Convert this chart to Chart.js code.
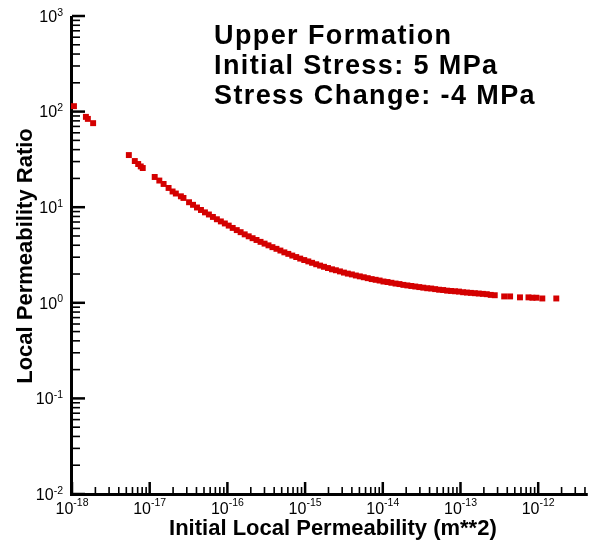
<!DOCTYPE html>
<html>
<head>
<meta charset="utf-8">
<title>Local Permeability Ratio</title>
<script src="https://cdn.jsdelivr.net/npm/chart.js@4/dist/chart.umd.min.js"></script>
<style>
  html, body { margin: 0; padding: 0; background: #fff; }
  canvas { display: block; }
</style>
</head>
<body>
<canvas id="permchart" width="592" height="544"></canvas>
<script>
// initial permeability (m**2) and the resulting permeability ratio
const permeability = [
  1.06e-18, 1.51e-18, 1.60e-18, 1.87e-18,
  5.39e-18, 6.43e-18, 7.11e-18, 7.67e-18, 8.14e-18,
  1.16e-17, 1.33e-17, 1.51e-17, 1.75e-17, 1.97e-17, 2.17e-17, 2.52e-17, 2.72e-17,
  3.21e-17, 3.61e-17, 4.06e-17, 4.57e-17, 5.14e-17, 5.78e-17, 6.51e-17, 7.32e-17,
  8.24e-17, 9.27e-17, 1.04e-16, 1.17e-16, 1.32e-16, 1.48e-16, 1.67e-16, 1.88e-16,
  2.11e-16, 2.37e-16, 2.67e-16, 3.01e-16, 3.38e-16, 3.80e-16, 4.28e-16, 4.81e-16,
  5.41e-16, 6.08e-16, 6.84e-16, 7.69e-16, 8.65e-16, 9.75e-16, 1.10e-15, 1.23e-15,
  1.39e-15, 1.56e-15, 1.75e-15, 1.97e-15, 2.22e-15, 2.49e-15, 2.81e-15, 3.16e-15,
  3.55e-15, 4.00e-15, 4.50e-15, 5.06e-15, 5.69e-15, 6.40e-15, 7.19e-15, 8.09e-15,
  9.10e-15, 1.02e-14, 1.15e-14, 1.29e-14, 1.46e-14, 1.64e-14, 1.84e-14, 2.07e-14,
  2.33e-14, 2.62e-14, 2.95e-14, 3.32e-14, 3.73e-14, 4.20e-14, 4.72e-14, 5.31e-14,
  5.98e-14, 6.73e-14, 7.57e-14, 8.51e-14, 9.57e-14, 1.08e-13, 1.21e-13, 1.36e-13,
  1.53e-13, 1.72e-13, 1.94e-13, 2.18e-13, 2.45e-13, 2.76e-13,
  3.65e-13, 4.35e-13, 5.83e-13, 7.50e-13, 8.43e-13, 9.48e-13, 1.13e-12, 1.71e-12
];
const ratio = [
  114, 88.1, 83.9, 75.7,
  35.1, 30.4, 28.3, 26.7, 25.7,
  20.7, 19.0, 17.5, 15.9, 14.6, 13.9, 13.0, 12.5,
  11.27, 10.59, 9.93, 9.35, 8.83, 8.39, 7.91, 7.48,
  7.10, 6.76, 6.42, 6.07, 5.76, 5.48, 5.20, 4.96,
  4.74, 4.54, 4.34, 4.16, 3.99, 3.82, 3.67, 3.52,
  3.37, 3.25, 3.12, 3.01, 2.90, 2.80, 2.71, 2.62,
  2.53, 2.45, 2.38, 2.31, 2.24, 2.19, 2.13, 2.07,
  2.02, 1.98, 1.93, 1.89, 1.85, 1.81, 1.77, 1.74,
  1.71, 1.67, 1.65, 1.62, 1.59, 1.57, 1.54, 1.52,
  1.50, 1.48, 1.46, 1.44, 1.42, 1.41, 1.39, 1.37,
  1.36, 1.34, 1.33, 1.32, 1.31, 1.29, 1.28, 1.27,
  1.26, 1.25, 1.24, 1.23, 1.21, 1.20,
  1.166, 1.166, 1.14, 1.14, 1.13, 1.13, 1.11, 1.11
];

// decade exponents used for tick labels
const xDecades = [-18, -17, -16, -15, -14, -13, -12];
const yDecades = [-2, -1, 0, 1, 2, 3];

const xTitle = 'Initial Local Permeability (m**2)';
const yTitle = 'Local Permeability Ratio';
const noteLines = ['Upper Formation', 'Initial Stress: 5 MPa', 'Stress Change: -4 MPa'];

const FONT = '"Liberation Sans", Arial, Helvetica, sans-serif';

// all decades touched by a scale, plus the 2..9 minor values inside it
function logTicks(scale, decades) {
  const list = [];
  const lo = Math.floor(Math.log10(scale.min));
  const hi = Math.ceil(Math.log10(scale.max));
  for (let d = lo; d <= hi; d++) {
    for (let m = 1; m <= 9; m++) {
      const v = m * Math.pow(10, d);
      if (v < scale.min * 0.999 || v > scale.max * 1.001) continue;
      list.push({ v: v, major: m === 1 && decades.includes(d) });
    }
  }
  return list;
}

function expLabel(ctx, exp, x, baseY, expY, align) {
  ctx.font = '16px ' + FONT;
  const wBase = ctx.measureText('10').width;
  ctx.font = '10.5px ' + FONT;
  const wExp = ctx.measureText(String(exp)).width;
  const w = wBase + wExp;
  const left = align === 'center' ? x - w / 2 : x - w;
  ctx.textAlign = 'left';
  ctx.textBaseline = 'alphabetic';
  ctx.font = '16px ' + FONT;
  ctx.fillText('10', left, baseY);
  ctx.font = '10.5px ' + FONT;
  ctx.fillText(String(exp), left + wBase, expY);
}

// plot-style frame: axis lines with inward major/minor ticks
const framePlugin = {
  id: 'frame',
  beforeDatasetsDraw(chart) {
    const { ctx, chartArea: a, scales: { x, y } } = chart;
    ctx.save();
    ctx.strokeStyle = '#000';
    ctx.lineCap = 'butt';

    logTicks(x, xDecades).forEach(t => {
      const px = x.getPixelForValue(t.v);
      ctx.lineWidth = t.major ? 2.5 : 1.6;
      ctx.beginPath();
      ctx.moveTo(px, a.bottom);
      ctx.lineTo(px, a.bottom - (t.major ? 12 : 7));
      ctx.stroke();
    });
    logTicks(y, yDecades).forEach(t => {
      const py = y.getPixelForValue(t.v);
      ctx.lineWidth = t.major ? 2.5 : 1.6;
      ctx.beginPath();
      ctx.moveTo(a.left, py);
      ctx.lineTo(a.left + (t.major ? 13 : 8), py);
      ctx.stroke();
    });

    ctx.lineWidth = 3;
    ctx.beginPath();
    ctx.moveTo(a.left - 0.5, a.top);
    ctx.lineTo(a.left - 0.5, a.bottom + 2);
    ctx.moveTo(a.left - 2, a.bottom + 0.5);
    ctx.lineTo(a.right, a.bottom + 0.5);
    ctx.stroke();
    ctx.restore();
  },
  afterDraw(chart) {
    const { ctx, chartArea: a, scales: { x, y } } = chart;
    ctx.save();
    ctx.fillStyle = '#000';

    xDecades.forEach(d => {
      const px = x.getPixelForValue(Math.pow(10, d));
      expLabel(ctx, d, px, a.bottom + 20, a.bottom + 11.5, 'center');
    });
    yDecades.forEach(d => {
      const py = y.getPixelForValue(Math.pow(10, d));
      expLabel(ctx, d, a.left - 9, py + 5.8, py - 0.4, 'right');
    });

    ctx.font = 'bold 22px ' + FONT;
    ctx.textAlign = 'center';
    ctx.textBaseline = 'alphabetic';
    ctx.fillText(xTitle, (a.left + a.right) / 2 + 3, 535);

    ctx.save();
    ctx.translate(31.5, (a.top + a.bottom) / 2 + 1);
    ctx.rotate(-Math.PI / 2);
    ctx.fillText(yTitle, 0, 0);
    ctx.restore();

    ctx.font = 'bold 27px ' + FONT;
    ctx.textAlign = 'left';
    if ('letterSpacing' in ctx) ctx.letterSpacing = '1.4px';
    noteLines.forEach((line, i) => ctx.fillText(line, 214, 44 + i * 30));
    ctx.restore();
  }
};

new Chart(document.getElementById('permchart'), {
  type: 'scatter',
  data: {
    datasets: [{
      label: yTitle,
      data: permeability.map((k, i) => ({ x: k, y: ratio[i] })),
      pointStyle: 'rect',
      pointRadius: 4.2,
      pointBorderWidth: 0,
      pointBackgroundColor: '#d40000',
      clip: false
    }]
  },
  options: {
    responsive: false,
    animation: false,
    devicePixelRatio: 1,
    layout: { padding: { left: 72, top: 16, right: 0, bottom: 50 } },
    scales: {
      x: { type: 'logarithmic', display: false, min: 1e-18, max: 4.35e-12 },
      y: { type: 'logarithmic', display: false, min: 0.01, max: 1000 }
    },
    plugins: {
      legend: { display: false },
      tooltip: { enabled: false }
    }
  },
  plugins: [framePlugin]
});
</script>
</body>
</html>
